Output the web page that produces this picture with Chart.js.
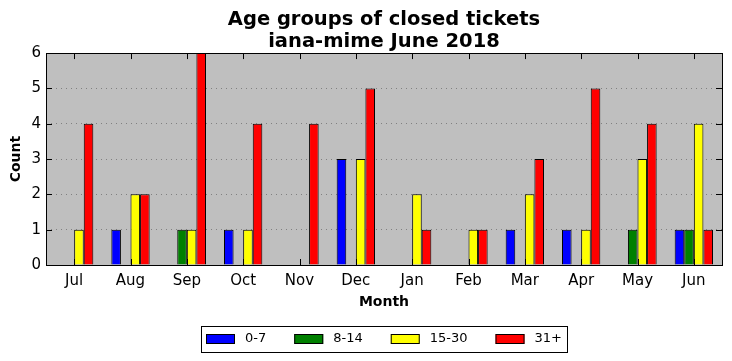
<!DOCTYPE html>
<html>
<head>
<meta charset="utf-8">
<script src="https://cdn.jsdelivr.net/npm/chart.js@4/dist/chart.umd.min.js"></script>
<style>
    html, body { margin: 0; padding: 0; background: #fff; }
</style>
</head>
<body>
<canvas id="ageChart" width="732" height="361"></canvas>
<script>
    // closed tickets per month, by age group (days)
    var months = ['Jul', 'Aug', 'Sep', 'Oct', 'Nov', 'Dec', 'Jan', 'Feb', 'Mar', 'Apr', 'May', 'Jun'];
    var groupNames = ['0-7', '8-14', '15-30', '31+'];
    var groupColors = ['#0000ff', '#008000', '#ffff00', '#ff0000'];

    var age0to7   = [0, 1, 0, 1, 0, 3, 0, 0, 1, 1, 0, 1];
    var age8to14  = [0, 0, 1, 0, 0, 0, 0, 0, 0, 0, 1, 1];
    var age15to30 = [1, 2, 1, 1, 0, 3, 2, 1, 2, 1, 3, 4];
    var age31plus = [4, 2, 6, 4, 4, 5, 1, 1, 3, 5, 4, 1];

    var yTicks = [0, 1, 2, 3, 4, 5, 6];

    var FONT = "'DejaVu Sans', sans-serif";

    var seriesValues = [age0to7, age8to14, age15to30, age31plus];
    var datasets = seriesValues.map(function (vals, i) {
        return {
            label: groupNames[i],
            data: vals,
            backgroundColor: groupColors[i],
            borderColor: '#000000',
            borderWidth: 1,
            borderSkipped: 'start'
        };
    });

    // matplotlib-ish frame: grey face, black box, inward ticks, boxed legend
    var framePlugin = {
        id: 'mplFrame',
        beforeDraw: function (chart) {
            var a = chart.chartArea, ctx = chart.ctx;
            ctx.save();
            ctx.fillStyle = '#bfbfbf';
            ctx.fillRect(a.left, a.top, a.right - a.left, a.bottom - a.top);
            ctx.restore();
        },
        afterDatasetsDraw: function (chart) {
            var a = chart.chartArea, ctx = chart.ctx;
            var xs = chart.scales.x, ys = chart.scales.y;
            var len = 6;
            ctx.save();
            ctx.strokeStyle = '#000000';
            ctx.lineWidth = 1;
            ctx.beginPath();
            xs.ticks.forEach(function (t, i) {
                var px = Math.round(xs.getPixelForTick(i)) + 0.5;
                ctx.moveTo(px, a.top);
                ctx.lineTo(px, a.top + len);
                ctx.moveTo(px, a.bottom);
                ctx.lineTo(px, a.bottom - len);
            });
            ys.ticks.forEach(function (t, i) {
                var py = Math.round(ys.getPixelForTick(i)) + 0.5;
                ctx.moveTo(a.left, py);
                ctx.lineTo(a.left + len, py);
                ctx.moveTo(a.right, py);
                ctx.lineTo(a.right - len, py);
            });
            ctx.stroke();
            ctx.strokeRect(Math.round(a.left) + 0.5, Math.round(a.top) + 0.5,
                Math.round(a.right - a.left), Math.round(a.bottom - a.top));
            ctx.restore();
        },
        afterDraw: function (chart) {
            var a = chart.chartArea, ctx = chart.ctx;
            ctx.save();
            ctx.font = '13px ' + FONT;
            var widths = groupNames.map(function (n) { return ctx.measureText(n).width; });
            var patchW = 29, patchH = 10, gapText = 10, gapItem = 28, margin = 5;
            var total = margin * 2 + gapItem * (groupNames.length - 1);
            widths.forEach(function (w) { total += patchW + gapText + w; });
            var left = Math.round((a.left + a.right) / 2 - total / 2);
            var top = 326, boxH = 26;
            ctx.fillStyle = '#ffffff';
            ctx.fillRect(left, top, total, boxH);
            ctx.strokeStyle = '#000000';
            ctx.lineWidth = 1;
            ctx.strokeRect(left + 0.5, top + 0.5, Math.round(total), boxH);
            var x = left + margin;
            var cy = top + boxH / 2;
            groupNames.forEach(function (n, i) {
                ctx.fillStyle = groupColors[i];
                ctx.fillRect(x, cy - patchH / 2, patchW, patchH);
                ctx.strokeRect(x + 0.5, cy - patchH / 2 + 0.5, patchW - 1, patchH - 1);
                x += patchW + gapText;
                ctx.fillStyle = '#000000';
                ctx.textBaseline = 'middle';
                ctx.textAlign = 'left';
                ctx.fillText(n, x, cy);
                x += widths[i] + gapItem;
            });
            ctx.restore();
        }
    };

    var ctx = document.getElementById('ageChart').getContext('2d');
    var chart = new Chart(ctx, {
        type: 'bar',
        data: {
            labels: months,
            datasets: datasets
        },
        options: {
            responsive: false,
            animation: false,
            events: [],
            datasets: {
                bar: { categoryPercentage: 0.68, barPercentage: 1.0 }
            },
            layout: {
                padding: { left: 0, right: 10, top: 0, bottom: 46 }
            },
            plugins: {
                legend: { display: false },
                tooltip: { enabled: false },
                title: {
                    display: true,
                    fullSize: false,
                    text: ['Age groups of closed tickets', 'iana-mime June 2018'],
                    color: '#000000',
                    font: { family: FONT, size: 19.5, weight: 'bold', lineHeight: 1.13 },
                    padding: { top: 9, bottom: 0 }
                }
            },
            scales: {
                x: {
                    grid: { display: false, drawTicks: false },
                    border: { display: false },
                    ticks: {
                        color: '#000000',
                        font: { family: FONT, size: 15 },
                        padding: 7,
                        maxRotation: 0
                    },
                    title: {
                        display: true,
                        text: 'Month',
                        color: '#000000',
                        font: { family: FONT, size: 14, weight: 'bold' },
                        padding: { top: 0, bottom: 4 }
                    },
                    afterFit: function (scale) { scale.height = 50; }
                },
                y: {
                    min: 0,
                    max: 6,
                    afterBuildTicks: function (scale) {
                        scale.ticks = yTicks.map(function (v) { return { value: v }; });
                    },
                    grid: {
                        drawTicks: false,
                        lineWidth: 1,
                        color: function (c) {
                            var v = c.tick ? c.tick.value : 0;
                            return (v === 0 || v === 6) ? 'rgba(0,0,0,0)' : '#808080';
                        }
                    },
                    border: { display: false, dash: [1, 4] },
                    ticks: {
                        color: '#000000',
                        font: { family: FONT, size: 15 },
                        padding: 5
                    },
                    title: {
                        display: true,
                        text: 'Count',
                        color: '#000000',
                        font: { family: FONT, size: 14, weight: 'bold' },
                        padding: { top: 8, bottom: 0 }
                    },
                    afterFit: function (scale) { scale.width = 46; }
                }
            }
        },
        plugins: [framePlugin]
    });
</script>
</body>
</html>
